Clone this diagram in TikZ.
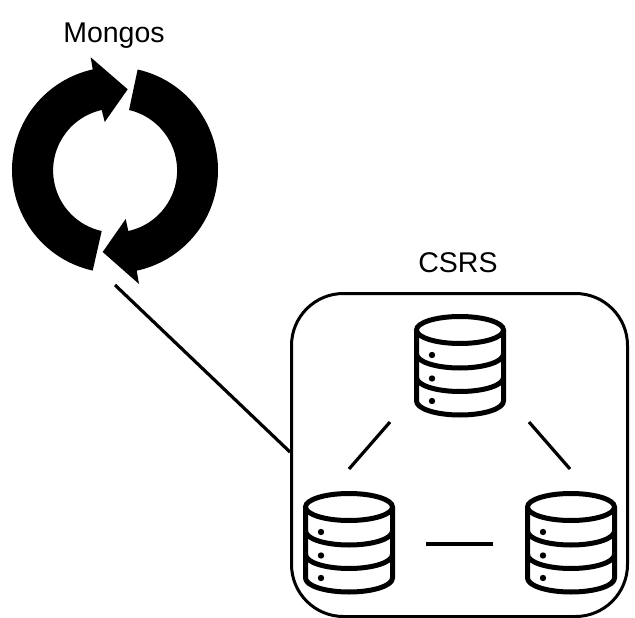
\documentclass[tikz,border=0pt]{standalone}
\usepackage{fontspec}
\setmainfont{Liberation Sans}
\tikzset{
  pxgrid/.style={x=1pt,y=-1pt},
  lbl/.style={font=\fontsize{28.5}{32}\selectfont,inner sep=0pt,text=black},
  link/.style={draw=black,line width=3.2pt},
  boxframe/.style={draw=black,line width=3pt,rounded corners=52pt,minimum width=336pt,minimum height=323pt,inner sep=0pt},
  dbline/.style={draw=black,line width=5pt},
  pics/dbicon/.style={code={
    \draw[dbline] (0,0) ellipse [x radius=43.5,y radius=13.5];
    \draw[dbline,line join=round] (-43.5,0) -- (-43.5,71) arc[start angle=180,end angle=0,x radius=43.5,y radius=14] -- (43.5,0);
    \draw[dbline] (-43.5,24) arc[start angle=180,end angle=0,x radius=43.5,y radius=14];
    \draw[dbline] (-43.5,47.5) arc[start angle=180,end angle=0,x radius=43.5,y radius=14];
    \fill[black] (-28,25) circle[radius=3.2] (-28,48.5) circle[radius=3.2] (-28,71) circle[radius=3.2];
  }}
}
\begin{document}
\begin{tikzpicture}[pxgrid]
\useasboundingbox (0,0) rectangle (635,618);
\coordinate (c) at (115,170);
% Mongos cycle arrows
\fill[black] (c)+(102.5:103) arc[start angle=102.5,end angle=257.5,radius=103]
  -- (90.7,57.3) -- (127.7,89.3) -- (104.7,122) -- (101.7,110)
  arc[start angle=257.5,end angle=102.5,radius=62] -- cycle;
\fill[black] (c)+(-77.3:103) arc[start angle=-77.3,end angle=77.8,radius=103]
  -- (139,284) -- (102.7,252) -- (125.7,219) -- (128.3,231)
  arc[start angle=77.7,end angle=-77,radius=62] -- cycle;
\node[lbl] (mongos) at (114,35.5) {Mongos};
\node[lbl] (csrslabel) at (458,263) {CSRS};
\node[boxframe] (csrs) at (459.5,455) {};
\pic at (460,330) {dbicon};
\pic at (349,507) {dbicon};
\pic at (571,507) {dbicon};
\coordinate (mongosend) at (115,285);
\coordinate (csrsend) at (290,452);
\coordinate (tl) at (390,422);
\coordinate (ll) at (349,469);
\coordinate (tr) at (529,422);
\coordinate (rr) at (570,469);
\coordinate (bl) at (426,544);
\coordinate (br) at (493,544);
\draw[link] (mongosend) -- (csrsend);
\draw[link] (tl) -- (ll);
\draw[link] (tr) -- (rr);
\draw[link] (bl) -- (br);
\end{tikzpicture}
\end{document}
